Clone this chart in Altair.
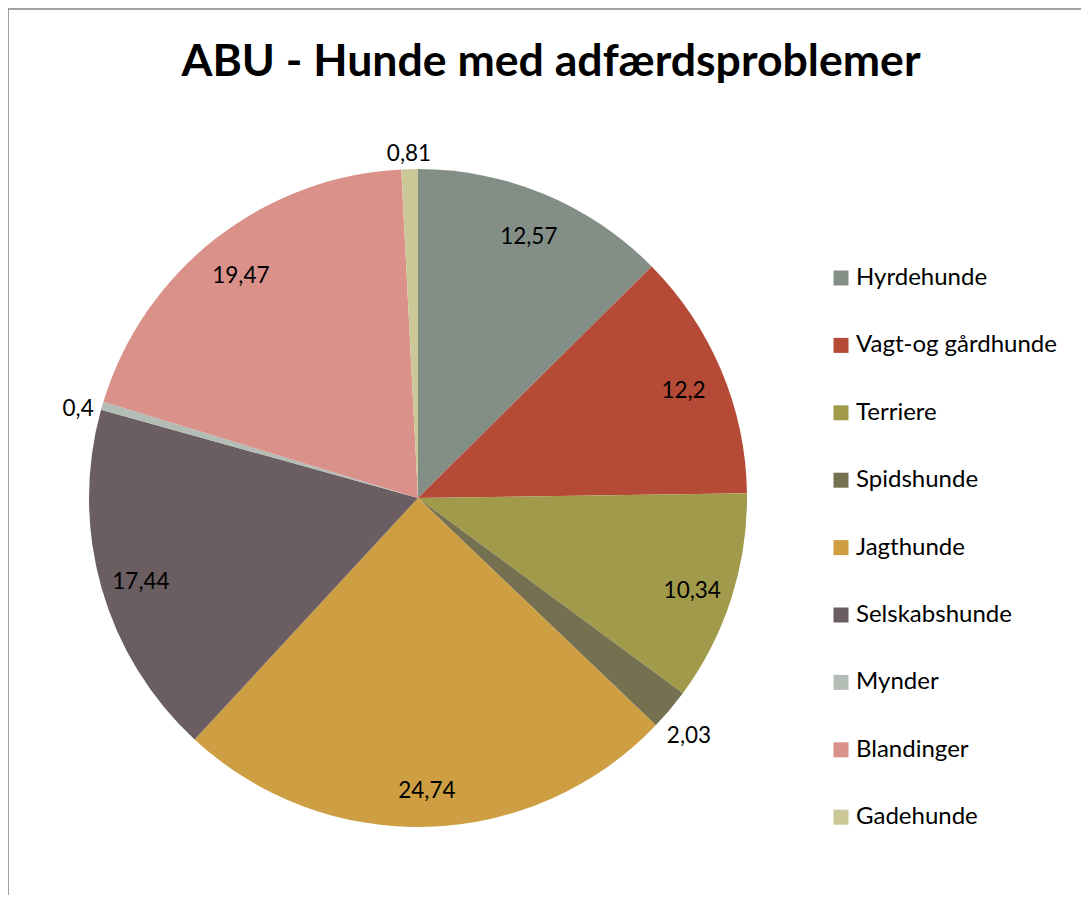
import altair as alt
import pandas as pd

categories = ["Hyrdehunde", "Vagt-og gårdhunde", "Terriere", "Spidshunde", "Jagthunde",
              "Selskabshunde", "Mynder", "Blandinger", "Gadehunde"]
values = [12.57, 12.2, 10.34, 2.03, 24.74, 17.44, 0.4, 19.47, 0.81]
colors = ["#838F86", "#B54A36", "#A19A4A", "#757150", "#CD9F42",
          "#6B5E62", "#B4BCB6", "#D9918A", "#CCC797"]
chart_title = "ABU - Hunde med adfærdsproblemer"

df = pd.DataFrame({"cat": categories, "v": values, "idx": list(range(len(categories)))})

W, H = 1073, 887
CX, CY, R = 410, 490, 329
theta_scale = alt.Scale(domain=[0, 100], range=[0, 6.283185307179586])

pie = alt.Chart(df).mark_arc(strokeWidth=0).encode(
    theta=alt.Theta("v:Q", stack=True, scale=theta_scale),
    order=alt.Order("idx:Q", sort="ascending"),
    x=alt.value(CX), y=alt.value(CY),
    radius=alt.value(R),
    color=alt.Color("cat:N", scale=alt.Scale(domain=categories, range=colors),
                    sort=categories,
                    legend=alt.Legend(title=None, orient="none", legendX=821, legendY=258,
                                      symbolType="square", symbolSize=225,
                                      symbolStrokeWidth=0, symbolOpacity=1,
                                      labelFont="Lato", labelFontSize=24, labelColor="#000",
                                      rowPadding=43.4, labelOffset=3, padding=0,
                                      labelLimit=400)),
)

lab_base = alt.Chart(df).transform_window(
    cum="sum(v)", sort=[alt.SortField("idx", order="ascending")],
    frame=[None, 0],
).transform_calculate(
    mid="datum.cum - datum.v / 2",
    lab="replace(toString(datum.v), '.', ',')",
)

inner = lab_base.transform_filter("datum.v >= 3").mark_text(
    font="Lato", fontSize=22.5, color="#000", align="center", baseline="middle",
    radius=288, dy=5,
).encode(
    theta=alt.Theta("mid:Q", stack=None, scale=theta_scale),
    x=alt.value(CX), y=alt.value(CY),
    text="lab:N",
)

outer = lab_base.transform_filter("datum.v < 3").mark_text(
    font="Lato", fontSize=22.5, color="#000", align="center", baseline="middle",
    radius=354, dy=10,
).encode(
    theta=alt.Theta("mid:Q", stack=None, scale=theta_scale),
    x=alt.value(CX), y=alt.value(CY),
    text="lab:N",
)

title_df = pd.DataFrame({"t": [chart_title]})
title = alt.Chart(title_df).mark_text(font="Lato", fontSize=44.6, fontWeight="bold",
                                      color="#000", align="center", baseline="middle").encode(
    x=alt.value(543), y=alt.value(55), text="t:N"
)

border_top = alt.Chart(title_df).mark_rule(color="#8a8a8a", strokeWidth=1.5).encode(
    x=alt.value(0), x2=alt.value(W), y=alt.value(1)
)
border_left = alt.Chart(title_df).mark_rule(color="#8a8a8a", strokeWidth=1.5).encode(
    x=alt.value(0), y=alt.value(1), y2=alt.value(H)
)

chart = alt.layer(border_top, border_left, pie, inner, outer, title).properties(
    width=W, height=H, padding=0, autosize="none",
).configure_view(stroke=None).configure(background="white")

chart.save("out.html", embed_options={"renderer": "svg", "actions": False})
